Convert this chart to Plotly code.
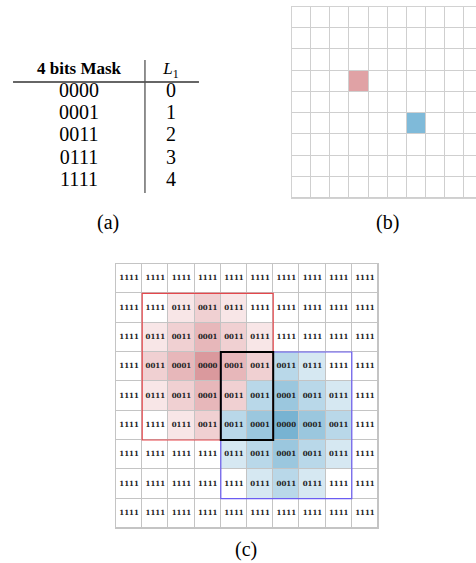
import plotly.graph_objects as go

# ---------------- data ----------------
# (a) table
table_header = ["<b>4 bits Mask</b>", "<i>L</i><sub>1</sub>"]
mask_codes = ["0000", "0001", "0011", "0111", "1111"]
l1_values = [0, 1, 2, 3, 4]

# (b) sparse grid: two marked cells (row, col)
n_rows, n_cols = 9, 10
red_cell = (3, 3)
blue_cell = (5, 6)

# (c) combined mask grid
mask_grid = [
    ["1111", "1111", "1111", "1111", "1111", "1111", "1111", "1111", "1111", "1111"],
    ["1111", "1111", "0111", "0011", "0111", "1111", "1111", "1111", "1111", "1111"],
    ["1111", "0111", "0011", "0001", "0011", "0111", "1111", "1111", "1111", "1111"],
    ["1111", "0011", "0001", "0000", "0001", "0011", "0011", "0111", "1111", "1111"],
    ["1111", "0111", "0011", "0001", "0011", "0011", "0001", "0011", "0111", "1111"],
    ["1111", "1111", "0111", "0011", "0011", "0001", "0000", "0001", "0011", "1111"],
    ["1111", "1111", "1111", "1111", "0111", "0011", "0001", "0011", "0111", "1111"],
    ["1111", "1111", "1111", "1111", "1111", "0111", "0011", "0111", "1111", "1111"],
    ["1111", "1111", "1111", "1111", "1111", "1111", "1111", "1111", "1111", "1111"],
]
owner_grid = [
    "..........",
    "..RRR.....",
    ".RRRRR....",
    ".RRRRRBB..",
    ".RRRRBBBB.",
    "..RRBBBBB.",
    "....BBBBB.",
    ".....BBB..",
    "..........",
]
box_radius = 2

# ---------------- styles ----------------
SERIF = "Liberation Serif, Times New Roman, DejaVu Serif, serif"
red_scale = [[0, "#da999d"], [1 / 3, "#e7b7ba"], [2 / 3, "#f0d0d2"], [1, "#f8e6e7"]]
blue_scale = [[0, "#78b3d2"], [1 / 3, "#9bc7de"], [2 / 3, "#b9d8e9"], [1, "#d6e8f2"]]
W, H = 476, 563


def py(p):
    return 1 - p / H


fig = go.Figure()

# ---------- (a) table ----------
fig.add_trace(go.Scatter(
    x=[0, 1], y=[-1, -1], text=table_header, mode="text",
    textfont=dict(family=SERIF, size=17, color="black"),
    xaxis="x", yaxis="y", hoverinfo="skip", showlegend=False))
fig.add_trace(go.Scatter(
    x=[0] * len(mask_codes), y=list(range(len(mask_codes))), text=mask_codes, mode="text",
    textfont=dict(family=SERIF, size=20, color="black"),
    xaxis="x", yaxis="y", hoverinfo="skip", showlegend=False))
fig.add_trace(go.Scatter(
    x=[1] * len(l1_values), y=list(range(len(l1_values))), text=[str(v) for v in l1_values],
    mode="text", textfont=dict(family=SERIF, size=20, color="black"),
    xaxis="x", yaxis="y", hoverinfo="skip", showlegend=False))

zeros = [[0] * n_cols for _ in range(n_rows)]


def grid_base(xa, ya, line_color):
    # solid grid-line colour underneath, white cells with gaps on top
    fig.add_trace(go.Heatmap(z=zeros, colorscale=[[0, line_color], [1, line_color]],
                             showscale=False, xaxis=xa, yaxis=ya, hoverinfo="skip"))
    fig.add_trace(go.Heatmap(z=zeros, colorscale=[[0, "white"], [1, "white"]],
                             showscale=False, xgap=1, ygap=1, xaxis=xa, yaxis=ya,
                             hoverinfo="skip"))


# ---------- (b) sparse grid ----------
grid_base("x2", "y2", "#cfcfcf")
zb = [[None] * n_cols for _ in range(n_rows)]
zb[red_cell[0]][red_cell[1]] = 0
zb[blue_cell[0]][blue_cell[1]] = 1
fig.add_trace(go.Heatmap(
    z=zb, colorscale=[[0, "#e0a2a5"], [0.5, "#e0a2a5"], [0.5, "#7fbad9"], [1, "#7fbad9"]],
    zmin=0, zmax=1, showscale=False, xgap=1, ygap=1, xaxis="x2", yaxis="y2", hoverinfo="skip"))

# ---------- (c) combined grid ----------
grid_base("x3", "y3", "#c4c4c4")
zr = [[mask_grid[r][c].count("1") if owner_grid[r][c] == "R" else None for c in range(n_cols)]
      for r in range(n_rows)]
zbl = [[mask_grid[r][c].count("1") if owner_grid[r][c] == "B" else None for c in range(n_cols)]
       for r in range(n_rows)]
fig.add_trace(go.Heatmap(z=zr, colorscale=red_scale, zmin=0, zmax=3, showscale=False,
                         xgap=1, ygap=1, xaxis="x3", yaxis="y3", hoverinfo="skip"))
fig.add_trace(go.Heatmap(z=zbl, colorscale=blue_scale, zmin=0, zmax=3, showscale=False,
                         xgap=1, ygap=1, xaxis="x3", yaxis="y3", hoverinfo="skip"))
tx, ty, tt = [], [], []
for r in range(n_rows):
    for c in range(n_cols):
        tx.append(c)
        ty.append(r)
        tt.append("<b>" + mask_grid[r][c] + "</b>")
fig.add_trace(go.Scatter(x=tx, y=ty, text=tt, mode="text",
                         textfont=dict(family="DejaVu Serif", size=7, color="#222"),
                         xaxis="x3", yaxis="y3", hoverinfo="skip", showlegend=False))

# ---------- layout ----------
hidden = dict(visible=False, showgrid=False, zeroline=False)
grid_ax = dict(showgrid=False, zeroline=False, showticklabels=False, ticks="",
               showline=True, mirror=True, linewidth=1)
fig.update_layout(
    width=W, height=H, margin=dict(l=0, r=0, t=0, b=0),
    paper_bgcolor="white", plot_bgcolor="white", showlegend=False,
    xaxis=dict(domain=[0, 250 / W], range=[-0.8587, 1.8587], anchor="y", **hidden),
    yaxis=dict(domain=[py(240), 1], range=[6.667, -4.144], anchor="x", **hidden),
    xaxis2=dict(domain=[292 / W, 1], range=[-0.5, 9.108], anchor="y2",
                linecolor="#d2d2d2", **grid_ax),
    yaxis2=dict(domain=[py(198), py(7)], range=[8.5, -0.5], anchor="x2",
                linecolor="#d2d2d2", **grid_ax),
    xaxis3=dict(domain=[116 / W, 378 / W], range=[-0.5, 9.5], anchor="y3",
                linecolor="#c4c4c4", **grid_ax),
    yaxis3=dict(domain=[py(528), py(264)], range=[8.5, -0.5], anchor="x3",
                linecolor="#c4c4c4", **grid_ax),
)

shapes = [
    # table rules
    dict(type="line", xref="x", yref="y", x0=-0.717, x1=1.304, y0=-0.45, y1=-0.45,
         line=dict(color="#333", width=1.3)),
    dict(type="line", xref="x", yref="y", x0=0.717, x1=0.717, y0=-1.44, y1=4.55,
         line=dict(color="#555", width=1.3)),
]
rr, rc = red_cell
br, bc = blue_cell
shapes += [
    dict(type="rect", xref="x3", yref="y3", x0=rc - box_radius - 0.5, x1=rc + box_radius + 0.5,
         y0=rr - box_radius - 0.5, y1=rr + box_radius + 0.5, line=dict(color="#e5474c", width=1.2)),
    dict(type="rect", xref="x3", yref="y3", x0=bc - box_radius - 0.5, x1=bc + box_radius + 0.5,
         y0=br - box_radius - 0.5, y1=br + box_radius + 0.5, line=dict(color="#6b5cf2", width=1.2)),
    dict(type="rect", xref="x3", yref="y3", x0=bc - box_radius - 0.5, x1=rc + box_radius + 0.5,
         y0=br - box_radius - 0.5, y1=rr + box_radius + 0.5, line=dict(color="black", width=2)),
]
fig.update_layout(shapes=shapes)

captions = [("(a)", 108, 222), ("(b)", 387, 222), ("(c)", 246, 549)]
fig.update_layout(annotations=[
    dict(text=t, x=x / W, y=py(y), xref="paper", yref="paper", showarrow=False,
         font=dict(family=SERIF, size=20, color="black"), xanchor="center", yanchor="middle")
    for t, x, y in captions
])

fig.write_html("out.html", config={"displayModeBar": False},
               post_script="document.body.style.margin='0';document.body.style.padding='0';"
                           "document.documentElement.style.overflow='hidden';")
